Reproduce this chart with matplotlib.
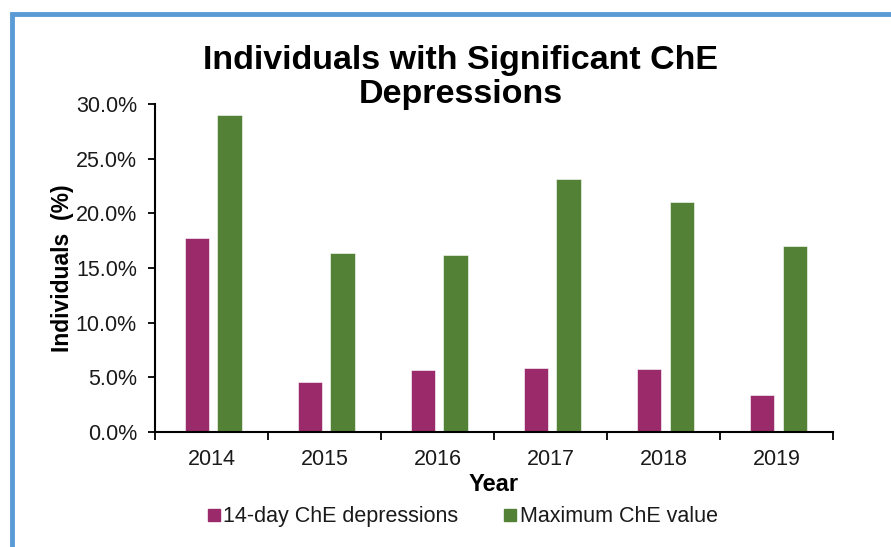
import matplotlib
matplotlib.use("Agg")
import matplotlib.pyplot as plt
from matplotlib.patches import Rectangle
from matplotlib.lines import Line2D
from matplotlib.ticker import FixedLocator, PercentFormatter
import numpy as np

plt.rcParams['font.family'] = ['Liberation Sans', 'DejaVu Sans']

# Data
years = ["2014", "2015", "2016", "2017", "2018", "2019"]
depressions_14day = [17.7, 4.6, 5.7, 5.9, 5.8, 3.4]
max_che_value = [29.0, 16.4, 16.2, 23.1, 21.0, 17.0]

PURPLE = "#9B2A6B"
GREEN = "#538135"
BORDER = "#5B9BD5"

fig = plt.figure(figsize=(8.91, 5.47), dpi=100)
ax = fig.add_axes([0.174, 0.21, 0.761, 0.60])

x = np.arange(len(years))
w = 0.215
ax.bar(x - 0.13, depressions_14day, width=w, color=PURPLE,
       edgecolor="white", linewidth=0.4, label="14-day ChE depressions")
ax.bar(x + 0.16, max_che_value, width=w, color=GREEN,
       edgecolor="white", linewidth=0.4, label="Maximum ChE value")

ax.set_xlim(-0.5, len(years) - 0.5)
ax.set_ylim(0, 30)
ax.set_yticks(np.arange(0, 31, 5))
ax.yaxis.set_major_formatter(PercentFormatter(decimals=1))

# category labels centred, tick marks on the boundaries
ax.set_xticks(x)
ax.set_xticklabels(years)
ax.xaxis.set_minor_locator(FixedLocator(np.arange(-0.5, len(years), 1.0)))
ax.tick_params(axis="x", which="major", length=0, pad=12, labelsize=15.5,
               labelcolor="#1a1a1a")
ax.tick_params(axis="x", which="minor", length=6, width=1.3, direction="out")
ax.tick_params(axis="y", length=5, width=1.3, direction="out", labelsize=15.5,
               pad=8, labelcolor="#1a1a1a")

for side in ("top", "right"):
    ax.spines[side].set_visible(False)
for side in ("left", "bottom"):
    ax.spines[side].set_linewidth(1.5)

ax.set_xlabel("Year", fontsize=17, fontweight="bold", labelpad=2)
ax.set_ylabel("Individuals  (%)", fontsize=16.5, fontweight="bold", labelpad=1)

fig.text(0.517, 0.858, "Individuals with Significant ChE\nDepressions",
         ha="center", va="center", fontsize=24.5, fontweight="bold",
         linespacing=1.12)

handles = [Line2D([], [], marker="s", linestyle="none", markersize=9, color=PURPLE),
           Line2D([], [], marker="s", linestyle="none", markersize=9, color=GREEN)]
fig.legend(handles, ["14-day ChE depressions", "Maximum ChE value"],
           loc="center", bbox_to_anchor=(0.518, 0.055), ncol=2, frameon=False,
           fontsize=15.5, handletextpad=0.05, columnspacing=2.0,
           handlelength=0.8, labelcolor="#1a1a1a")

# blue chart frame (top and left visible)
fig.patches.append(Rectangle((0.013, -0.05), 1.1, 1.025, transform=fig.transFigure,
                             fill=False, edgecolor=BORDER, linewidth=3.5))

fig.savefig("out.png", dpi=100)
